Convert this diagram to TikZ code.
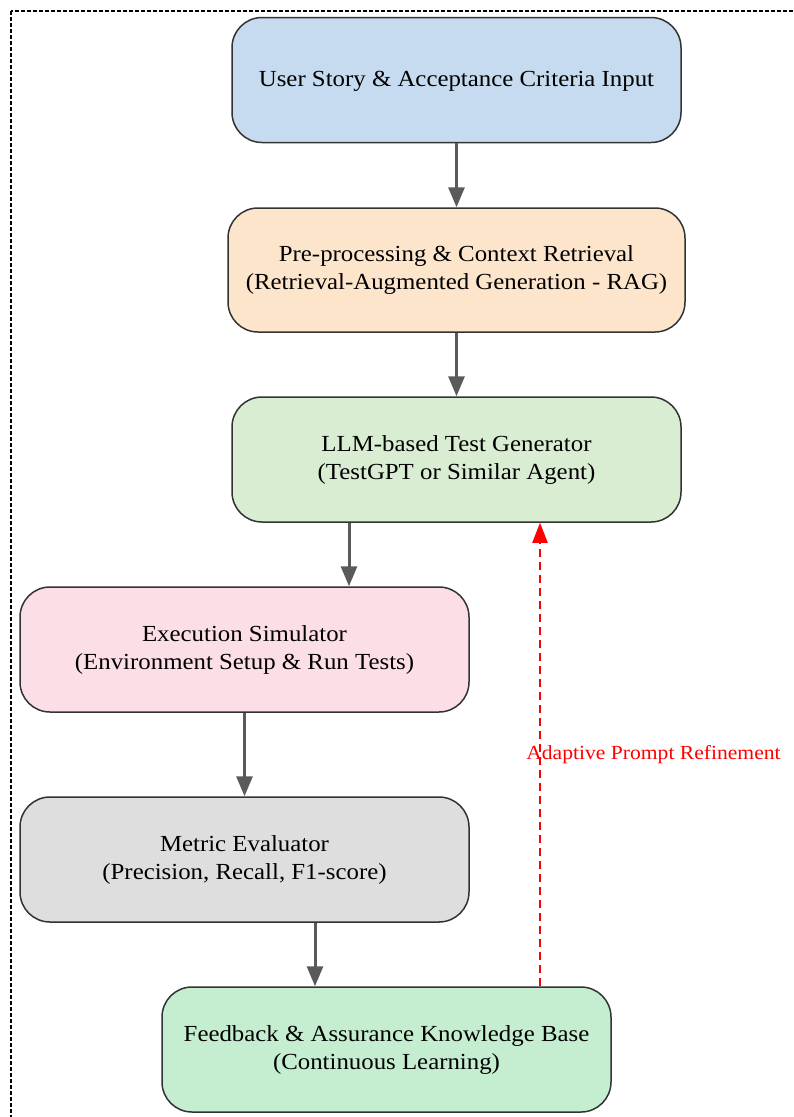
\documentclass[tikz,border=0pt]{standalone}
\usepackage{fontspec}
\setmainfont{Liberation Serif}[FakeStretch=1.08]
\usetikzlibrary{arrows.meta}

\definecolor{inputblue}{RGB}{198,219,239}
\definecolor{ragpeach}{RGB}{253,229,204}
\definecolor{gengreen}{RGB}{217,237,211}
\definecolor{simpink}{RGB}{252,222,230}
\definecolor{evalgray}{RGB}{222,222,222}
\definecolor{kbgreen}{RGB}{197,238,208}
\definecolor{flowgray}{RGB}{90,90,90}

\begin{document}
\begin{tikzpicture}[x=1pt, y=-1pt,
    stage/.style ={draw=black!80, line width=1.5pt, rounded corners=30pt,
      minimum width=449pt, minimum height=125pt, align=center,
      font=\fontsize{23}{28}\selectfont},
    flow/.style ={draw=flowgray, line width=3pt,
      -{Triangle[length=20pt,width=16pt]}},
    refine/.style ={draw=red, line width=2pt, dash pattern=on 8pt off 5pt,
      -{Triangle[length=20pt,width=15pt]}}]
   \clip (0,0) rectangle (793,1117);
   \draw[dash pattern=on 4pt off 2pt, line width=1.2pt] (11,11) rectangle (830,1140);

   \node[stage, fill=inputblue, text depth=2pt] (input) at (456.5,80)
     {User Story \& Acceptance Criteria Input};
   \node[stage, fill=ragpeach, minimum width=457pt, minimum height=124pt] (rag) at (456.5,270)
     {Pre-processing \& Context Retrieval\\(Retrieval-Augmented Generation - RAG)};
   \node[stage, fill=gengreen] (gen) at (456.5,459.5)
     {LLM-based Test Generator\\(TestGPT or Similar Agent)};
   \node[stage, fill=simpink] (sim) at (244.5,649.5)
     {Execution Simulator\\(Environment Setup \& Run Tests)};
   \node[stage, fill=evalgray] (eval) at (244.5,859.5)
     {Metric Evaluator\\(Precision, Recall, F1-score)};
   \node[stage, fill=kbgreen] (kb) at (386.5,1049.5)
     {Feedback \& Assurance Knowledge Base\\(Continuous Learning)};

   \draw[flow] (input) to (rag);
   \draw[flow] (rag) to (gen);
   \draw[flow] ([xshift=-107.5pt]gen.south) to ([xshift=104.5pt]sim.north);
   \draw[flow] (sim) to (eval);
   \draw[flow] ([xshift=70.5pt]eval.south) to ([xshift=-71.5pt]kb.north);
   \draw[refine] ([xshift=153.5pt]kb.north) to
     node[pos=0.5, anchor=west, xshift=-18pt, text=red, font=\fontsize{20}{24}\selectfont]
       {Adaptive Prompt Refinement}
     ([xshift=83.5pt]gen.south);
 \end{tikzpicture}
\end{document}
